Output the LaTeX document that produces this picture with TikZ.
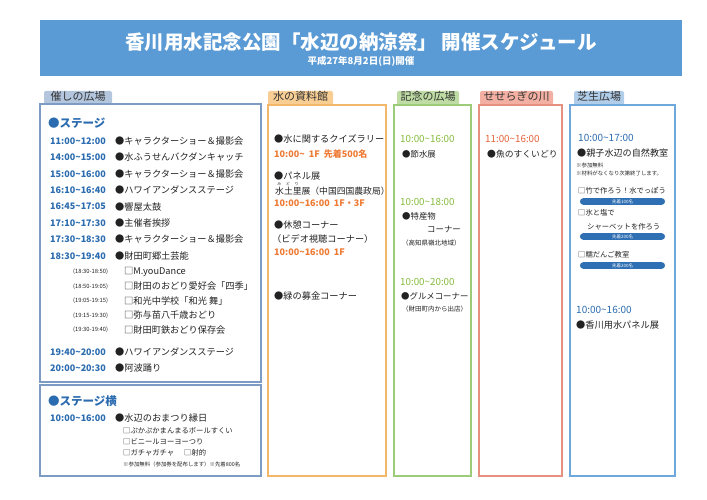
\documentclass[tikz,border=0pt]{standalone}
\usepackage{fontspec}
\setmainfont{Noto Sans CJK JP}
\definecolor{hdrblue}{HTML}{5B9BD5}
\definecolor{stblue}{HTML}{2B6CB0}
\definecolor{lboxc}{HTML}{7D9CC4}
\definecolor{wboxc}{HTML}{F3B76B}
\definecolor{kboxc}{HTML}{9CCC7A}
\definecolor{sboxc}{HTML}{E8907F}
\definecolor{gboxc}{HTML}{6FA8DC}
\definecolor{ltab}{HTML}{B3C6DE}
\definecolor{wtab}{HTML}{F8CE94}
\definecolor{ktab}{HTML}{BEDCA3}
\definecolor{stab}{HTML}{F3B0A2}
\definecolor{gtab}{HTML}{B0CDEA}
\definecolor{orng}{HTML}{EE7A33}
\definecolor{grn}{HTML}{86BC3E}
\definecolor{red}{HTML}{E5623A}
\definecolor{pillc}{HTML}{2F6FB3}
\definecolor{txt}{HTML}{222222}
\newcommand\tld{\textasciitilde}
\newcommand\fs[1]{\fontsize{#1}{#1}\selectfont}
\begin{document}
\begin{tikzpicture}[x=1pt,y=-1pt,
  every node/.style={inner sep=0pt,text=txt},
  tw/.style={anchor=west},
  ev/.style={tw,font=\fs{9.2}},
  kev/.style={tw,font=\fs{8.4}},
  tm/.style={tw,font=\fs{9}\bfseries,text=stblue},
  subt/.style={tw,font=\fs{5.8}},
  sm/.style={tw,font=\fs{7.3}},
  tiny/.style={tw,font=\fs{5.4}},
  tabtxt/.style={font=\fs{11},text=black!80},
  boxline/.style={line width=1.3pt},
  pill/.style={fill=pillc,rounded corners=3.2pt,minimum width=85pt,minimum height=6.6pt,text=white,font=\fs{4.5}}]
\useasboundingbox (0,0) rectangle (707,500);
\fill[white] (0,0) rectangle (707,500);
% header
\fill[hdrblue] (40,20) rectangle (682,76);
\node[text=white,font=\fs{19.5}\bfseries] (title) at (361,42) {香川用水記念公園「水辺の納涼祭」\ 開催スケジュール};
\node[text=white,font=\fs{9.5}\bfseries] (sub) at (361,61) {平成27年8月2日(日)開催};
% tabs
\fill[ltab,rounded corners=2pt] (44,91) rectangle (112,104);
\node[tabtxt] (lt) at (78,96.5) {催しの広場};
\fill[wtab,rounded corners=2pt] (268,91) rectangle (333,105);
\node[tabtxt] (wt) at (300.5,96.5) {水の資料館};
\fill[ktab,rounded corners=2pt] (397,91) rectangle (459,105);
\node[tabtxt] (kt) at (428,96.5) {記念の広場};
\fill[stab,rounded corners=2pt] (480,91) rectangle (553,105);
\node[tabtxt] (st) at (516.5,96.5) {せせらぎの川};
\fill[gtab,rounded corners=2pt] (574,91) rectangle (624,105);
\node[tabtxt] (gt) at (599,96.5) {芝生広場};
% boxes
\draw[boxline,lboxc] (40,104) rectangle (261,382);
\draw[boxline,lboxc] (40,385) rectangle (261,476);
\draw[boxline,wboxc] (268,105) rectangle (386,476);
\draw[boxline,kboxc] (394,105) rectangle (471,476);
\draw[boxline,sboxc] (479,105) rectangle (562,476);
\draw[boxline,gboxc] (570,105) rectangle (675,476);
% stage
\node[tw,font=\fs{11.5}\bfseries,text=stblue] (stage) at (48,123) {●ステージ};
\node[tm] (t1) at (50,141) {11:00\tld12:00};
\node[ev] (e1) at (115,141) {●キャラクターショー＆撮影会};
\node[tm] (t2) at (50,157.4) {14:00\tld15:00};
\node[ev] (e2) at (115,157.4) {●水ふうせんバクダンキャッチ};
\node[tm] (t3) at (50,173.8) {15:00\tld16:00};
\node[ev] (e3) at (115,173.8) {●キャラクターショー＆撮影会};
\node[tm] (t4) at (50,190.2) {16:10\tld16:40};
\node[ev] (e4) at (115,190.2) {●ハワイアンダンスステージ};
\node[tm] (t5) at (50,206.6) {16:45\tld17:05};
\node[ev] (e5) at (115,206.6) {●響屋太鼓};
\node[tm] (t6) at (50,223) {17:10\tld17:30};
\node[ev] (e6) at (115,223) {●主催者挨拶};
\node[tm] (t7) at (50,239.4) {17:30\tld18:30};
\node[ev] (e7) at (115,239.4) {●キャラクターショー＆撮影会};
\node[tm] (t8) at (50,255.8) {18:30\tld19:40};
\node[ev] (e8) at (115,255.8) {●財田町郷土芸能};
\node[subt] (u1) at (73,272) {(18:30-18:50)};
\node[ev] (v1) at (124,272) {□M.youDance};
\node[subt] (u2) at (73,286.5) {(18:50-19:05)};
\node[ev] (v2) at (124,286.5) {□財田のおどり愛好会「四季」};
\node[subt] (u3) at (73,301) {(19:05-19:15)};
\node[ev] (v3) at (124,301) {□和光中学校「和光 舞」};
\node[subt] (u4) at (73,315.5) {(19:15-19:30)};
\node[ev] (v4) at (124,315.5) {□弥与苗八千歳おどり};
\node[subt] (u5) at (73,330) {(19:30-19:40)};
\node[ev] (v5) at (124,330) {□財田町鉄おどり保存会};
\node[tm] (t9) at (50,352) {19:40\tld20:00};
\node[ev] (e9) at (115,352) {●ハワイアンダンスステージ};
\node[tm] (t10) at (50,368) {20:00\tld20:30};
\node[ev] (e10) at (115,368) {●阿波踊り};
% stage side
\node[tw,font=\fs{11.5}\bfseries,text=stblue] (side) at (48,401) {●ステージ横};
\node[tm] (t11) at (50,418) {10:00\tld16:00};
\node[ev] (e11) at (115,418) {●水辺のおまつり縁日};
\node[sm] (w1) at (123,430.5) {□ぷかぷかまんまるボールすくい};
\node[sm] (w2) at (123,441.5) {□ビニールヨーヨーつり};
\node[sm] (w3) at (123,452.5) {□ガチャガチャ};
\node[sm] (w4) at (184,452.5) {□射的};
\node[tiny] (w5) at (123,464.5) {※参加無料（参加券を配布します）※先着800名};
% water museum
\node[ev] (m1) at (274,139) {●水に関するクイズラリー};
\node[tm,text=orng] (m2) at (274,154) {10:00\tld\ \ 1F\ \ 先着500名};
\node[ev] (m3) at (274,176) {●パネル展};
\node[font=\fs{3.8}] (r1) at (279.2,184.5) {み};
\node[font=\fs{3.8}] (r2) at (288,184.5) {ど};
\node[font=\fs{3.8}] (r3) at (296.8,184.5) {り};
\node[tw,font=\fs{8.8}] (m4) at (275,191) {水土里展（中国四国農政局）};
\node[tm,text=orng] (m5) at (274,203.5) {10:00\tld16:00\ \ 1F・3F};
\node[ev] (m6) at (274,225) {●休憩コーナー};
\node[ev] (m7) at (272,239) {（ビデオ視聴コーナー）};
\node[tm,text=orng] (m8) at (274,252) {10:00\tld16:00\ \ 1F};
\node[ev] (m9) at (274,296) {●緑の募金コーナー};
% kinen
\node[tw,font=\fs{9.8},text=grn] (k1) at (400,139) {10:00\tld16:00};
\node[kev] (k2) at (402,154) {●節水展};
\node[tw,font=\fs{9.8},text=grn] (k3) at (400,202) {10:00\tld18:00};
\node[kev] (k4) at (402,216) {●特産物};
\node[kev] (k5) at (427,229.5) {コーナー};
\node[tw,font=\fs{6.5}] (k6) at (402,243) {（高知県嶺北地域）};
\node[tw,font=\fs{9.8},text=grn] (k7) at (400,282) {10:00\tld20:00};
\node[kev] (k8) at (401,296) {●グルメコーナー};
\node[tw,font=\fs{6.5}] (k9) at (402,309.5) {（財田町内から出店）};
% seseragi
\node[tw,font=\fs{9.8},text=red] (s1) at (485,139) {11:00\tld16:00};
\node[tw,font=\fs{8.8}] (s2) at (487,154) {●魚のすくいどり};
% shiba
\node[tw,font=\fs{10},text=stblue] (g1) at (578,138) {10:00\tld17:00};
\node[tw,font=\fs{9.1}] (g2) at (577,153) {●親子水辺の自然教室};
\node[tiny] (g3) at (576,165) {※参加無料};
\node[tiny] (g4) at (576,173) {※材料がなくなり次第終了します。};
\node[sm] (g5) at (578,191) {□竹で作ろう！水でっぽう};
\node[pill] (p1) at (622.5,201.5) {先着100名};
\node[sm] (g6) at (578,213) {□氷と塩で};
\node[sm] (g7) at (587,227) {シャーベットを作ろう};
\node[pill] (p2) at (622.5,236.5) {先着200名};
\node[sm] (g8) at (578,255) {□糯だんご教室};
\node[pill] (p3) at (622.5,265.5) {先着200名};
\node[tw,font=\fs{10},text=stblue] (g9) at (576,310) {10:00\tld16:00};
\node[ev] (g10) at (576,325) {●香川用水パネル展};
\end{tikzpicture}
\end{document}
